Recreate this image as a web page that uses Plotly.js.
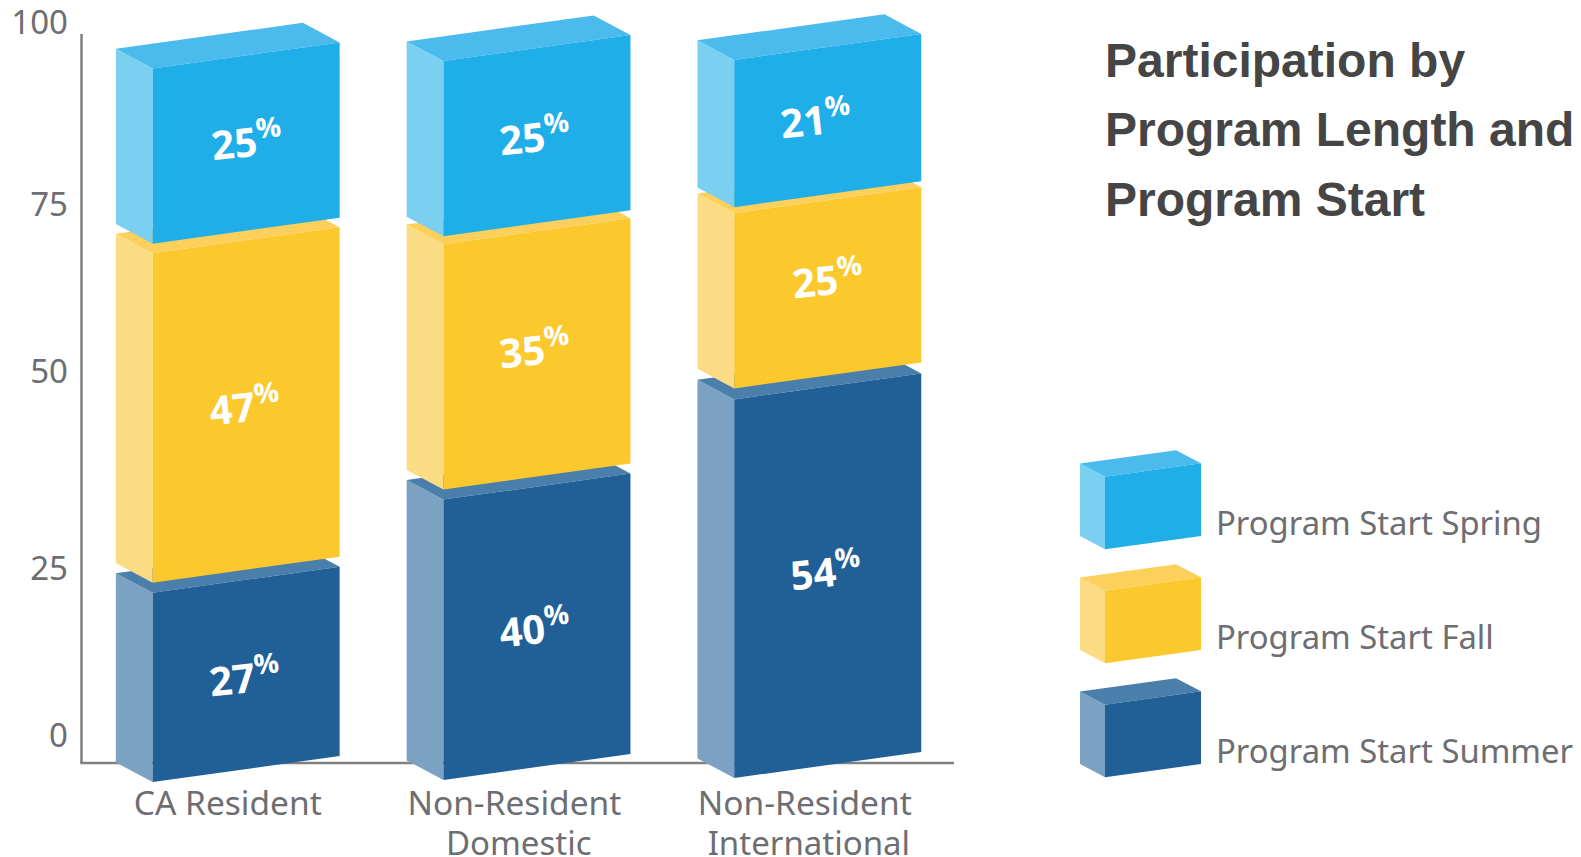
<!DOCTYPE html>
<html><head><meta charset="utf-8">
<script src="https://cdn.plot.ly/plotly-3.0.1.min.js"></script>
<style>html,body{margin:0;padding:0;background:#fff;overflow:hidden}#chart{width:1581px;height:857px}</style>
</head><body><div id="chart"></div>
<script>
// ---------- data ----------
const categoriesLine1 = ['CA Resident', 'Non-Resident', 'Non-Resident'];
const categoriesLine2 = ['', 'Domestic', 'International'];
const summer = [27, 40, 54];
const fall   = [47, 35, 25];
const spring = [25, 25, 21];
const seriesNames = ['Program Start Summer', 'Program Start Fall', 'Program Start Spring'];
const yTickLabels = ['100', '75', '50', '25', '0'];
// the source's axis labels are hand placed, not on the bars' scale
const yTickSpots  = [108.3, 82.45, 58.6, 30.4, 6.7];
// visual seams between stacked blocks (value units)
const seamLower = [1.43, 1.43, 1.57];
const seamUpper = [1.36, 1.14, 0.86];
const titleLines = ['Participation by', 'Program Length and', 'Program Start'];
const line1Spots = [0, 0.985, 1.983];
const line2Spots = [0, 1.0, 1.997];

// ---------- styles ----------
const palette = [
  {front:'#206096', side:'#7BA2C3', cap:'#4A7FAB'},
  {front:'#FBC82E', side:'#FBDB83', cap:'#FCD05A'},
  {front:'#20AEE8', side:'#7BCFF1', cap:'#4ABBEC'}
];
const W = 1581, H = 857;
const pxX = 291, pxY = 7.01;                 // px per axis unit
const x0px = 227.75, y0px = 782;             // where x=0 and y=0 fall
const xRange = [-x0px/pxX, (W-x0px)/pxX];
const yRange = [(y0px-H)/pxY, y0px/pxY];
const toX = p => (p-x0px)/pxX;               // only for furniture sizes
const toY = p => (y0px-p)/pxY;

const slope = (26/pxY)/(187/pxX);            // front-face lean
const barFront = 187/pxX, barDX = 36.8/pxX, barDY = 19.6/pxY;
const baseDrop = 0.286;

const traces = [];
function poly(xs, ys, color){
  traces.push({type:'scatter', mode:'lines', x:[...xs, xs[0]], y:[...ys, ys[0]],
    fill:'toself', fillcolor:color, line:{width:0, color:color},
    hoverinfo:'skip', showlegend:false, cliponaxis:false});
}
function box(fx, fy, w, h, dx, dy, c){
  const s = w*slope;
  poly([fx-dx, fx, fx, fx-dx], [fy+dy, fy, fy+h, fy+h+dy], c.side);
  poly([fx-dx, fx, fx+w, fx+w-dx], [fy+h+dy, fy+h, fy+h+s, fy+h+s+dy], c.cap);
  poly([fx, fx+w, fx+w, fx], [fy, fy+s, fy+h+s, fy+h], c.front);
}

const annotations = [];
const stacks = [summer, fall, spring];
const seams = [seamLower, seamUpper];
const labelShiftY = [[-1, 0, 4], [0, 6, 1], [6, 10, 3]];
const labelShiftX = [[-2, -2, 0], [-2, -2, -2], [-2, 0, -12]];
categoriesLine1.forEach((_, i) => {
  const fx = i*0.9993 - barFront/2 + barDX/2;
  let base = i*baseDrop;
  stacks.forEach((vals, k) => {
    const v = vals[i];
    box(fx, base, barFront, v, barDX, barDY, palette[k]);
    annotations.push({
      x: fx + barFront/2, y: base + v/2 + barFront*slope/2,
      xref:'x', yref:'y', showarrow:false, textangle:-6,
      xanchor:'center', yanchor:'middle',
      xshift: labelShiftX[i][k], yshift: labelShiftY[i][k],
      text: '<b>' + v + '<sup>%</sup></b>',
      font:{family:'"Open Sans", Lato, sans-serif', size:40, color:'#ffffff'}
    });
    if (k < 2) base += v + seams[k][i];
  });
});

// legend swatches, drawn the same way as the bars (scaled down)
const legendOrder = [2, 1, 0];
legendOrder.forEach((k, n) => {
  const shift = n*114;
  box(toX(1105), toY(549.3+shift), 96/pxX, 72.6/pxY, 25/pxX, 13.2/pxY, palette[k]);
  annotations.push({
    xref:'paper', yref:'paper', x:1214/W, y:1-(522.5+shift)/H,
    xanchor:'left', yanchor:'middle', showarrow:false,
    text: seriesNames[k],
    font:{family:'"Noto Sans", sans-serif', size:32.8, color:'#6D6E71'}
  });
});

titleLines.forEach((line, n) => annotations.push({
  xref:'paper', yref:'paper', x:1103/W, y:1-(60.5+n*69.5)/H,
  xanchor:'left', yanchor:'middle', showarrow:false,
  text:'<b>'+line+'</b>',
  font:{family:'"Liberation Sans", Arial, sans-serif', size:48, color:'#454545'}
}));

// invisible trace that puts the second line of category labels on the page
traces.push({type:'scatter', mode:'markers', x:[0], y:[0], xaxis:'x2', yaxis:'y',
  opacity:0, hoverinfo:'skip', showlegend:false});

const tickFont = {family:'"Noto Sans", sans-serif', size:33.5, color:'#6D6E71'};
const tickFont2 = {family:'"Noto Sans", sans-serif', size:33, color:'#6D6E71'};
const yTickFont = {family:'"Noto Sans", sans-serif', size:33, color:'#6D6E71'};
const axisColor = '#808080';
const common = {tickmode:'array', tickcolor:'rgba(0,0,0,0)', ticks:'outside', showgrid:false,
  zeroline:false, showline:false, fixedrange:true, ticklabeloverflow:'allow'};
const layout = {
  width:W, height:H, margin:{l:0,r:0,t:0,b:0},
  paper_bgcolor:'#ffffff', plot_bgcolor:'#ffffff', showlegend:false,
  xaxis:{...common, domain:[0,1], range:xRange, anchor:'free', position:1-763/H,
    tickvals:line1Spots, ticktext:categoriesLine1, tickfont:tickFont, ticklen:11},
  xaxis2:{...common, domain:[0,1], range:xRange, overlaying:'x', anchor:'free', position:1-763/H, side:'bottom',
    tickvals:line2Spots, ticktext:categoriesLine2, tickfont:tickFont2, ticklen:51},
  yaxis:{...common, domain:[0,1], range:yRange, anchor:'free', position:81.5/W,
    tickvals:yTickSpots, ticktext:yTickLabels, tickfont:yTickFont, ticklen:7},
  shapes:[
    {type:'line', layer:'below', xref:'x', yref:'y', x0:toX(81.5), x1:toX(81.5), y0:toY(34), y1:toY(763), line:{color:axisColor, width:2.5}},
    {type:'line', layer:'below', xref:'x', yref:'y', x0:toX(80.25), x1:toX(954), y0:toY(763), y1:toY(763), line:{color:axisColor, width:2.5}}
  ],
  annotations
};
Plotly.newPlot('chart', traces, layout, {displayModeBar:false, responsive:false});
</script>
</body></html>
